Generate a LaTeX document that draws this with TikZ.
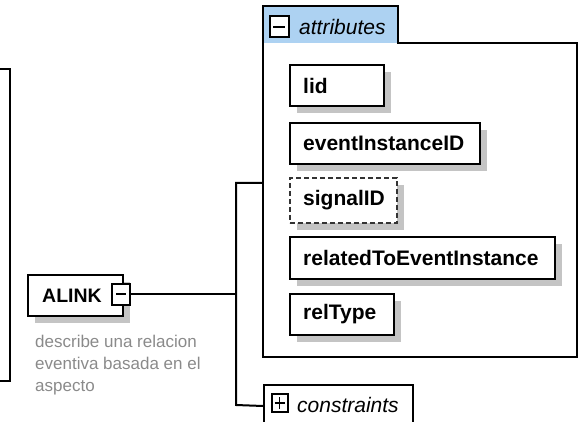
\documentclass[tikz,border=0pt]{standalone}
\usepackage{fontspec}
\setmainfont{Liberation Sans}
\usetikzlibrary{shadows}
\definecolor{shadowgray}{HTML}{C4C4C4}
\definecolor{tabblue}{HTML}{ADD2F2}
\definecolor{descgray}{HTML}{8A8A8A}
\begin{document}
\begin{tikzpicture}[x=1pt,y=-1pt,
  conn/.style={line width=2pt},
  elbox/.style={draw=black, line width=2pt, fill=white, rectangle, inner sep=0pt,
     anchor=north west, minimum height=41pt,
     drop shadow={shadow xshift=7pt, shadow yshift=-7pt, fill=shadowgray, opacity=1}},
  optbox/.style={elbox, draw=black!80, line width=1.6pt, dash pattern=on 5pt off 3pt},
  lbl/.style={font=\fontsize{21}{24}\selectfont\bfseries, anchor=west, inner sep=0pt},
  ital/.style={font=\fontsize{21}{24}\selectfont\itshape, anchor=west, inner sep=0pt},
  icon/.style={draw=black, line width=2pt, fill=white, rectangle, inner sep=0pt,
     minimum width=18pt, minimum height=21pt},
  desc/.style={font=\fontsize{17}{22}\selectfont, text=descgray, align=left,
     anchor=north west, inner sep=0pt}
]
\useasboundingbox (0,0) rectangle (581,422);
\clip (0,0) rectangle (581,422);

% left bracket (parent element edge)
\draw[conn] (0,69) -- (10,69) -- (10,381) -- (0,381);

% ALINK element
\node[elbox, minimum width=95pt] (alink) at (27,274) {};
\node[lbl, font=\fontsize{19.5}{24}\selectfont\bfseries] (alinktxt) at ([xshift=15pt]alink.west) {ALINK};
\node[icon] (alinkicon) at (121,294) {};
\draw[line width=1.8pt] ([xshift=-5pt]alinkicon.center) -- ([xshift=5pt]alinkicon.center);

% description
\node[desc] (desctxt) at (35,335) {describe una relacion\\eventiva basada en el\\aspecto};

% attributes group frame
\fill[tabblue] (263,6) rectangle (398,43);
\draw[conn, line join=miter] (263,6) -- (398,6) -- (398,43) -- (577,43) -- (577,357) -- (263,357) -- cycle;
\node[icon, minimum width=19pt, minimum height=21pt] (attricon) at (279,27) {};
\draw[line width=1.8pt] ([xshift=-6pt]attricon.center) -- ([xshift=6pt]attricon.center);
\node[ital] (attrtxt) at (299,27) {attributes};
\coordinate (attrin) at (263,183);

% attributes
\node[elbox, minimum width=94pt] (lid) at (289,64) {};
\node[lbl] at ([xshift=14pt]lid.west) {lid};
\node[elbox, minimum width=190pt] (evid) at (289,122) {};
\node[lbl] at ([xshift=14pt]evid.west) {eventInstanceID};
\node[optbox, minimum width=107pt, minimum height=45pt] (sig) at (289,177) {};
\node[lbl] at ([xshift=14pt]sig.west) {signalID};
\node[elbox, minimum width=265pt, minimum height=42pt] (rel) at (289,236) {};
\node[lbl] at ([xshift=14pt]rel.west) {relatedToEventInstance};
\node[elbox, minimum width=104pt] (reltype) at (289,293) {};
\node[lbl] at ([xshift=14pt]reltype.west) {relType};

% constraints group
\node[draw=black, line width=2pt, fill=white, rectangle, inner sep=0pt, anchor=north west,
      minimum width=149pt, minimum height=42pt] (constraints) at (263,384) {};
\node[icon, minimum width=16pt, minimum height=18pt] (consicon) at (279.5,403) {};
\draw[line width=1.5pt] ([xshift=-5pt]consicon.center) -- ([xshift=5pt]consicon.center)
   ([yshift=-6pt]consicon.center) -- ([yshift=6pt]consicon.center);
\node[ital] (constxt) at (297,405) {constraints};

% connectors
\coordinate (jt) at (236,183);
\coordinate (jb) at (236,405);
\draw[conn] (alinkicon.east) -- (alinkicon.east -| jt);
\draw[conn, line join=miter] (attrin) -- (jt) -- (jb) -- (constraints.west);
\end{tikzpicture}
\end{document}
